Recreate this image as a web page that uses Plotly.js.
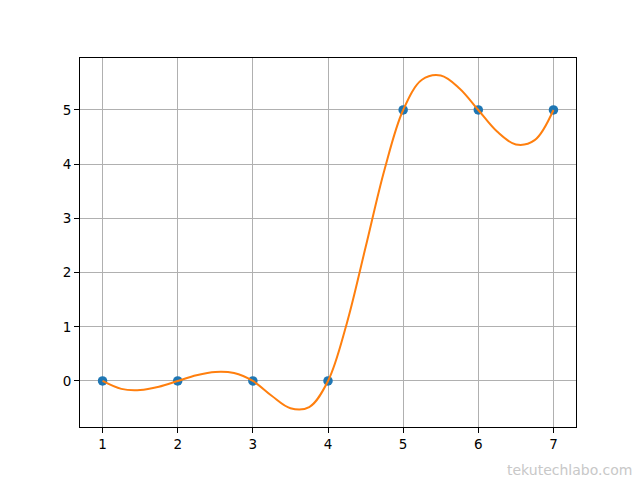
<!DOCTYPE html>
<html>
<head>
<meta charset="utf-8">
<script src="https://cdn.plot.ly/plotly-3.0.1.min.js"></script>
<style>html,body{margin:0;padding:0;background:#fff;}#chart{width:640px;height:480px;}</style>
</head>
<body>
<div id="chart"></div>
<script>
// Data points
const pointX = [1, 2, 3, 4, 5, 6, 7];
const pointY = [0, 0, 0, 0, 5, 5, 5];

// Smooth curve samples
const curveX = [1, 1.25, 1.5, 1.75, 2, 2.25, 2.5, 2.75, 3, 3.25, 3.5, 3.75, 4,
                4.25, 4.5, 4.75, 5, 5.25, 5.5, 5.75, 6, 6.25, 6.5, 6.75, 7];
const curveY = [0, -0.146, -0.167, -0.105, 0, 0.105, 0.167, 0.146, 0, -0.272, -0.502, -0.481, 0,
                1.062, 2.466, 3.888, 5, 5.557, 5.636, 5.398, 5, 4.602, 4.364, 4.443, 5];

const xTicks = [1, 2, 3, 4, 5, 6, 7];
const yTicks = [0, 1, 2, 3, 4, 5];

const traces = [
  {x: pointX, y: pointY, mode: 'markers', type: 'scatter',
   marker: {color: '#1f77b4', size: 9.5}, hoverinfo: 'none'},
  {x: curveX, y: curveY, mode: 'lines', type: 'scatter',
   line: {color: '#ff7f0e', width: 2, shape: 'spline', smoothing: 1}, hoverinfo: 'none'}
];

const axisCommon = {
  showgrid: true, gridcolor: '#b0b0b0', gridwidth: 1,
  showline: true, linecolor: '#000', linewidth: 1, mirror: true,
  ticks: 'outside', ticklen: 5, tickwidth: 1, tickcolor: '#000',
  zeroline: false,
  tickfont: {family: 'DejaVu Sans', size: 13.5, color: '#000'}
};

const layout = {
  width: 640, height: 480,
  paper_bgcolor: '#fff', plot_bgcolor: '#fff',
  showlegend: false,
  margin: {l: 80, r: 64, t: 58, b: 53},
  xaxis: Object.assign({}, axisCommon, {range: [0.7, 7.3], tickvals: xTicks, ticktext: xTicks.map(String)}),
  yaxis: Object.assign({}, axisCommon, {range: [-0.849, 5.959], tickvals: yTicks, ticktext: yTicks.map(String)}),
  annotations: [{
    text: 'tekutechlabo.com', xref: 'paper', yref: 'paper',
    x: 1.117, y: -0.117, xanchor: 'right', yanchor: 'middle',
    showarrow: false, font: {family: 'DejaVu Sans', size: 14, color: '#c8c8c8'}
  }]
};

Plotly.newPlot('chart', traces, layout, {displayModeBar: false, staticPlot: true});
</script>
</body>
</html>
